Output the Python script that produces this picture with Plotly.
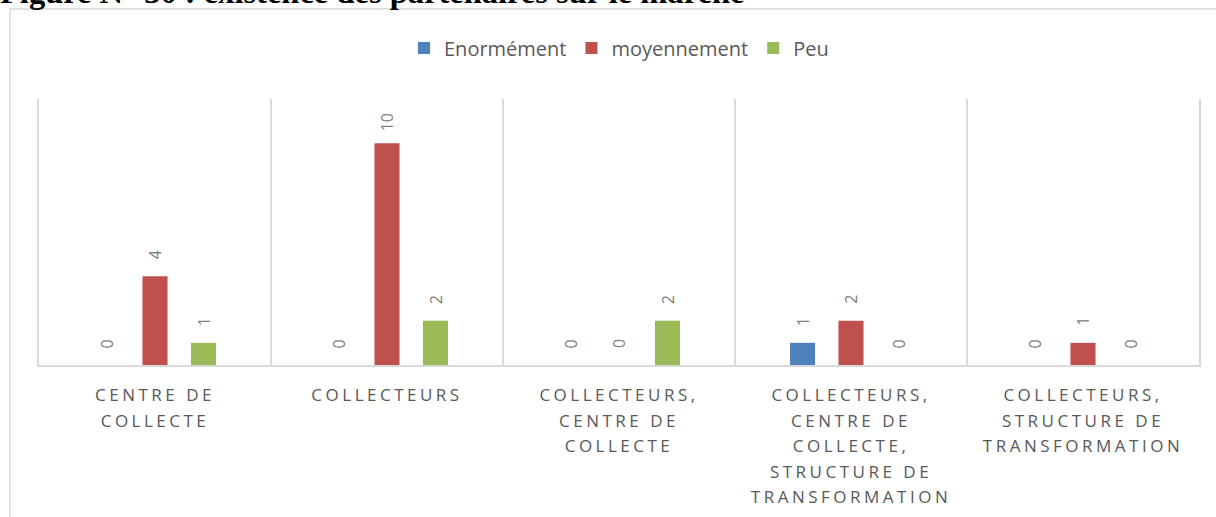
import plotly.graph_objects as go

categories = [
    "CENTRE DE<br>COLLECTE",
    "COLLECTEURS",
    "COLLECTEURS,<br>CENTRE DE<br>COLLECTE",
    "COLLECTEURS,<br>CENTRE DE<br>COLLECTE,<br>STRUCTURE DE<br>TRANSFORMATION",
    "COLLECTEURS,<br>STRUCTURE DE<br>TRANSFORMATION",
]
series_names = ["Enormément", "moyennement", "Peu"]
enormement = [0, 0, 0, 1, 0]
moyennement = [4, 10, 0, 2, 1]
peu = [1, 2, 2, 0, 0]
title_text = "Figure N° 30 : existence des partenaires sur le marché"

series_values = [enormement, moyennement, peu]
colors = ["#4F81BD", "#C0504D", "#9BBB59"]
offsets = [-0.209, 0.0, 0.209]
bar_width = 0.108

W, H = 1216, 517
L, R, T, B = 39, 17, 99, 152
pw, ph = W - L - R, H - T - B


def px_x(p):
    return (p - L) / pw


def px_y(p):
    return (H - B - p) / ph


fig = go.Figure()
idx = list(range(len(categories)))
for name, vals, col, off in zip(series_names, series_values, colors, offsets):
    fig.add_trace(go.Bar(
        x=[i + off for i in idx], y=vals, name=name, width=bar_width,
        marker=dict(color=col, line=dict(width=0)), hoverinfo="y",
    ))

annotations = []
for vals, off in zip(series_values, offsets):
    for i, v in zip(idx, vals):
        annotations.append(dict(
            x=i + off, y=v, xref="x", yref="y", text=str(v), textangle=-90,
            showarrow=False, yshift=21, yanchor="middle", xanchor="center",
            font=dict(family="Open Sans", size=16, color="#808080"),
        ))

annotations.append(dict(
    x=px_x(-2), y=px_y(12), xref="paper", yref="paper", xanchor="left", yanchor="bottom",
    text="<b>" + title_text + "</b>", showarrow=False,
    font=dict(family="Liberation Serif", size=32.5, color="#000000"),
))

grid_col = "#d9d9d9"
fig.update_layout(
    width=W, height=H,
    margin=dict(l=L, r=R, t=T, b=B),
    paper_bgcolor="white", plot_bgcolor="white",
    showlegend=True,
    legend=dict(orientation="h", x=0.5, xanchor="center", y=px_y(48), yanchor="middle",
                font=dict(family="Open Sans", size=20, color="#595959"),
                traceorder="normal"),
    xaxis=dict(range=[-0.5, len(categories) - 0.5], tickmode="array", tickvals=idx,
               ticktext=categories, ticks="", showgrid=False, zeroline=False,
               showline=True, linecolor=grid_col, linewidth=2,
               tickfont=dict(family="Open Sans", size=17, color="#595959"),
               ticklabelstandoff=14,
               minor=dict(tickmode="array", tickvals=[i + 0.5 for i in idx[:-1]],
                          showgrid=True, gridcolor=grid_col, gridwidth=1.5, ticks="")),
    yaxis=dict(range=[0, 12], showticklabels=False, showgrid=False, zeroline=False,
               showline=True, mirror=True, linecolor=grid_col, linewidth=1.5, ticks=""),
    annotations=annotations,
    shapes=[dict(type="rect", xref="paper", yref="paper",
                 x0=px_x(10), x1=px_x(1240), y0=px_y(540), y1=px_y(9),
                 line=dict(color=grid_col, width=1.5), fillcolor="rgba(0,0,0,0)", layer="below")],
)

post = """
document.body.style.margin = '0';
document.body.style.padding = '0';
var gd = document.getElementsByClassName('plotly-graph-div')[0];
function fixTicks(){
  gd.querySelectorAll('.xtick text').forEach(function(t){
    t.style.letterSpacing = '3.5px';
    t.querySelectorAll('tspan.line').forEach(function(s, i){
      s.setAttribute('dy', (i * 1.5) + 'em');
    });
  });
}
fixTicks();
gd.on('plotly_afterplot', fixTicks);
"""

fig.write_html("out.html", post_script=post, config={"displayModeBar": False})
